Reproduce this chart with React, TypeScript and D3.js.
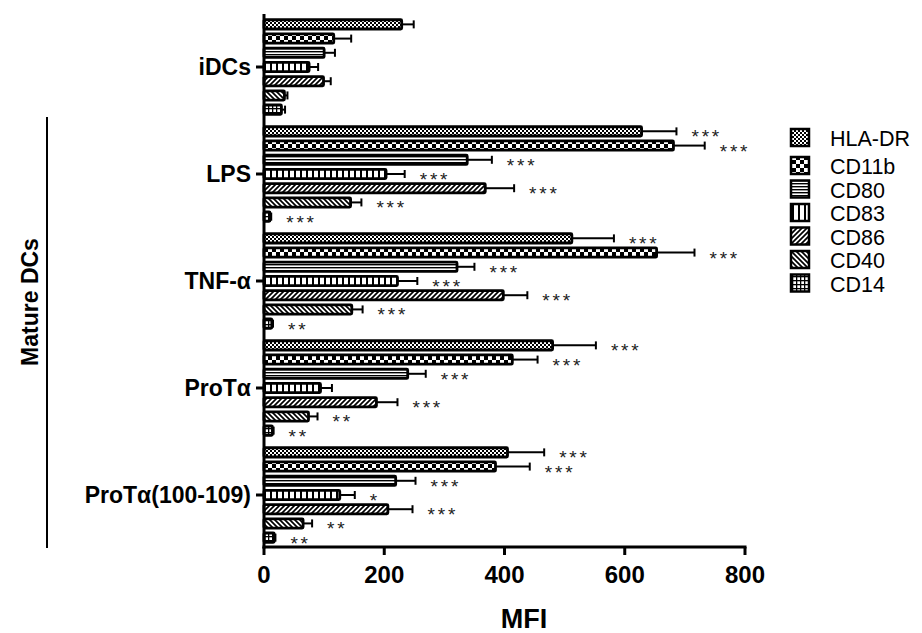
import React from "react";
import * as d3 from "d3";

const groups = ["iDCs", "LPS", "TNF-α", "ProTα", "ProTα(100-109)"];
const markers = ["HLA-DR", "CD11b", "CD80", "CD83", "CD86", "CD40", "CD14"];

const meanIDCs = [229, 116, 100, 75, 99, 34, 29];
const errIDCs = [20, 29, 18, 15, 12, 5, 6];
const starsIDCs = ["", "", "", "", "", "", ""];

const meanLPS = [628, 681, 338, 203, 368, 144, 10];
const errLPS = [58, 52, 41, 31, 48, 18, 2];
const starsLPS = ["***", "***", "***", "***", "***", "***", "***"];

const meanTNF = [512, 653, 321, 222, 398, 146, 13];
const errTNF = [70, 63, 29, 33, 40, 18, 2];
const starsTNF = ["***", "***", "***", "***", "***", "***", "**"];

const meanProT = [480, 413, 239, 94, 187, 74, 14];
const errProT = [72, 42, 30, 19, 35, 15, 2];
const starsProT = ["***", "***", "***", "", "***", "**", "**"];

const meanProT100 = [405, 385, 219, 126, 206, 65, 17];
const errProT100 = [61, 57, 33, 25, 41, 15, 2];
const starsProT100 = ["***", "***", "***", "*", "***", "**", "**"];

const xTicks = [0, 200, 400, 600, 800];

const means = [meanIDCs, meanLPS, meanTNF, meanProT, meanProT100];
const errs = [errIDCs, errLPS, errTNF, errProT, errProT100];
const stars = [starsIDCs, starsLPS, starsTNF, starsProT, starsProT100];

const FONT = "'Liberation Sans', Arial, sans-serif";

function Patterns() {
  return (
    <defs>
      <pattern id="p0" width="4" height="4" patternUnits="userSpaceOnUse">
        <rect width="4" height="4" fill="#fff" />
        <rect x="0" y="0" width="2" height="2" fill="#000" />
        <rect x="2" y="2" width="2" height="2" fill="#000" />
      </pattern>
      <pattern id="p1" width="8" height="8" patternUnits="userSpaceOnUse">
        <rect width="8" height="8" fill="#fff" />
        <rect x="0" y="0" width="4" height="4" fill="#000" />
        <rect x="4" y="4" width="4" height="4" fill="#000" />
      </pattern>
      <pattern id="p2" width="4" height="3" patternUnits="userSpaceOnUse">
        <rect width="4" height="3" fill="#fff" />
        <rect x="0" y="0" width="4" height="1.4" fill="#000" />
      </pattern>
      <pattern id="p3" width="6" height="4" patternUnits="userSpaceOnUse">
        <rect width="6" height="4" fill="#fff" />
        <rect x="0" y="0" width="2" height="4" fill="#000" />
      </pattern>
      <pattern id="p4" width="5" height="5" patternUnits="userSpaceOnUse">
        <rect width="5" height="5" fill="#fff" />
        <path d="M-1,6 L6,-1 M-1,1 L1,-1 M4,6 L6,4" stroke="#000" strokeWidth="1.7" />
      </pattern>
      <pattern id="p5" width="5" height="5" patternUnits="userSpaceOnUse">
        <rect width="5" height="5" fill="#fff" />
        <path d="M-1,-1 L6,6 M4,-1 L6,1 M-1,4 L1,6" stroke="#000" strokeWidth="1.7" />
      </pattern>
      <pattern id="p6" width="4" height="4" patternUnits="userSpaceOnUse">
        <rect width="4" height="4" fill="#fff" />
        <rect x="0" y="0" width="4" height="1.3" fill="#000" />
        <rect x="0" y="0" width="1.3" height="4" fill="#000" />
      </pattern>
    </defs>
  );
}

export default function App() {
  const x = d3.scaleLinear().domain([0, 800]).range([264, 745]);
  const y = d3.scaleBand().domain(groups).range([13.5, 548.5]).paddingInner(0).paddingOuter(0);
  const yi = d3
    .scaleBand()
    .domain(markers)
    .range([0, y.bandwidth()])
    .paddingInner(0.35)
    .paddingOuter(0.44);
  const bw = yi.bandwidth();

  return (
    <svg
      width={922}
      height={633}
      style={{ position: "absolute", left: 0, top: 0, background: "#fff" }}
      fontFamily={FONT}
    >
      <Patterns />
      <rect width={922} height={633} fill="#fff" />

      {groups.map((g, gi) => (
        <g key={g}>
          {markers.map((m, mi) => {
            const v = means[gi][mi];
            const e = errs[gi][mi];
            const y0 = (y(g) as number) + (yi(m) as number);
            const cy = y0 + bw / 2;
            const xe = x(v + e);
            const s = stars[gi][mi];
            return (
              <g key={m}>
                <line x1={x(v)} x2={xe} y1={cy} y2={cy} stroke="#000" strokeWidth={2} />
                <line x1={xe} x2={xe} y1={cy - 4} y2={cy + 4} stroke="#000" strokeWidth={2} />
                <rect
                  x={x(0)}
                  y={y0}
                  width={x(v) - x(0)}
                  height={bw}
                  fill={`url(#p${mi})`}
                  stroke="#000"
                  strokeWidth={2.8}
                  rx={1}
                />
                {s && (
                  <text
                    x={Math.max(xe, x(v)) + 15}
                    y={cy + 12}
                    fontSize={19}
                    letterSpacing={2.8}
                    fill="#222"
                  >
                    {s}
                  </text>
                )}
              </g>
            );
          })}
          <line
            x1={256}
            x2={264}
            y1={(y(g) as number) + y.bandwidth() / 2}
            y2={(y(g) as number) + y.bandwidth() / 2}
            stroke="#000"
            strokeWidth={3}
          />
          <text
            x={251}
            y={(y(g) as number) + y.bandwidth() / 2 + 8}
            textAnchor="end"
            fontSize={23}
            fontWeight="bold"
            fill="#000"
          >
            {g}
          </text>
        </g>
      ))}

      {/* axes */}
      <line x1={264} x2={264} y1={14} y2={548.5} stroke="#000" strokeWidth={3} />
      <line x1={262.5} x2={x(800) + 1.5} y1={547} y2={547} stroke="#000" strokeWidth={3} />
      {xTicks.map((t) => (
        <g key={t}>
          <line x1={x(t)} x2={x(t)} y1={547} y2={555} stroke="#000" strokeWidth={3} />
          <text x={x(t)} y={583} textAnchor="middle" fontSize={24} fontWeight="bold" fill="#000">
            {t}
          </text>
        </g>
      ))}
      <text x={524} y={628} textAnchor="middle" fontSize={27} fontWeight="bold" fill="#000">
        MFI
      </text>

      {/* Mature DCs bracket */}
      <line x1={47} x2={47} y1={117} y2={548} stroke="#000" strokeWidth={2} />
      <text
        transform="translate(38,302) rotate(-90)"
        textAnchor="middle"
        fontSize={23}
        fontWeight="bold"
        fill="#000"
      >
        Mature DCs
      </text>

      {/* legend */}
      {markers.map((m, i) => {
        const ly = i === 0 ? 138 : 166 + (i - 1) * 23.5;
        return (
          <g key={m}>
            <rect
              x={791}
              y={ly - 9}
              width={18}
              height={17}
              fill={`url(#p${i})`}
              stroke="#000"
              strokeWidth={2.5}
            />
            <text x={830} y={ly + 8} fontSize={21.5} fill="#000">
              {m}
            </text>
          </g>
        );
      })}
    </svg>
  );
}
